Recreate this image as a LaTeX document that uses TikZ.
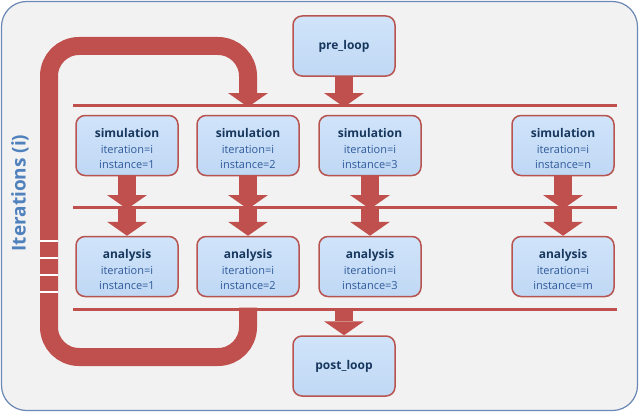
\documentclass[tikz,border=0pt]{standalone}
\usepackage{fontspec}
\setmainfont{Open Sans}
\usetikzlibrary{arrows.meta}

\definecolor{loopred}{HTML}{C0504D}
\definecolor{boxtop}{HTML}{D0E4FA}
\definecolor{boxbottom}{HTML}{C0D8F5}
\definecolor{boxline}{HTML}{B85450}
\definecolor{navy}{HTML}{17375E}
\definecolor{textblue}{HTML}{2E5A9A}
\definecolor{framegrey}{HTML}{F2F2F2}
\definecolor{frameblue}{HTML}{6B88B4}
\definecolor{labelblue}{HTML}{4F81BD}

\tikzset{
	job/.style={draw=boxline, line width=1.5pt, top color=boxtop, bottom color=boxbottom,
		rounded corners=9pt, minimum width=102pt, minimum height=60pt, align=center,
		inner sep=2pt, text=textblue, font=\fontsize{11}{15.5}\selectfont},
	bar/.style={draw=loopred, line width=3pt},
	flow/.style={draw=loopred, line width=18pt,
		-{Triangle[width=40pt,length=14pt,line width=0pt]}},
}
\newcommand{\jobtitle}[1]{{\fontsize{12}{15.5}\selectfont\bfseries\color{navy}#1}}

\begin{document}
\begin{tikzpicture}[x=1pt,y=-1pt]
	\useasboundingbox (0,0) rectangle (639,412);
	\draw[fill=framegrey, draw=frameblue, line width=1.2pt, rounded corners=25pt] (1.5,1.5) rectangle (637.5,410.5);
	\node[rotate=90, text=labelblue, font=\fontsize{19}{22}\selectfont\bfseries] (iter) at (20,193) {Iterations (i)};
	\coordinate (topL) at (73,105);
	\coordinate (topR) at (617,105);
	\coordinate (midL) at (73,207);
	\coordinate (midR) at (617,207);
	\coordinate (lowL) at (73,309);
	\coordinate (lowR) at (617,309);
	\node[job] (pre) at (344,46) {\jobtitle{pre\_loop}};
	\node[job] (post) at (344,366) {\jobtitle{post\_loop}};
	\foreach \n/\x/\k in {1/127/1,2/248/2,3/370/3,4/563/n}
		\node[job] (s\n) at (\x,145.5) {\rule{0pt}{16pt}\jobtitle{simulation}\\iteration=i\\instance=\k};
	\foreach \n/\x/\k in {1/127/1,2/248/2,3/370/3,4/563/m}
		\node[job] (a\n) at (\x,266.5) {\rule{0pt}{16pt}\jobtitle{analysis}\\iteration=i\\instance=\k};
	\draw[flow, rounded corners=30pt] ([yshift=1.5pt]s2 |- lowL) -- (248,357) -- (49,357) -- (49,46) -- (248,46) -- ([yshift=-2pt]s2 |- topL);
	\foreach \y in {241,258,275,292} \draw[white, line width=2.5pt] (40,\y) -- (58,\y);
	\draw[bar] (topL) -- (topR);
	\draw[bar] (midL) -- (midR);
	\draw[bar] (lowL) -- (lowR);
	\draw[flow] (pre) -- ([yshift=-2pt]pre |- topL);
	\draw[flow] ([yshift=1.5pt]post |- lowL) -- (post);
	\foreach \n in {1,...,4} {
		\draw[flow] (s\n) -- ([yshift=-2pt]s\n |- midL);
		\draw[flow] ([yshift=1.5pt]a\n |- midL) -- (a\n);
	}
\end{tikzpicture}
\end{document}
